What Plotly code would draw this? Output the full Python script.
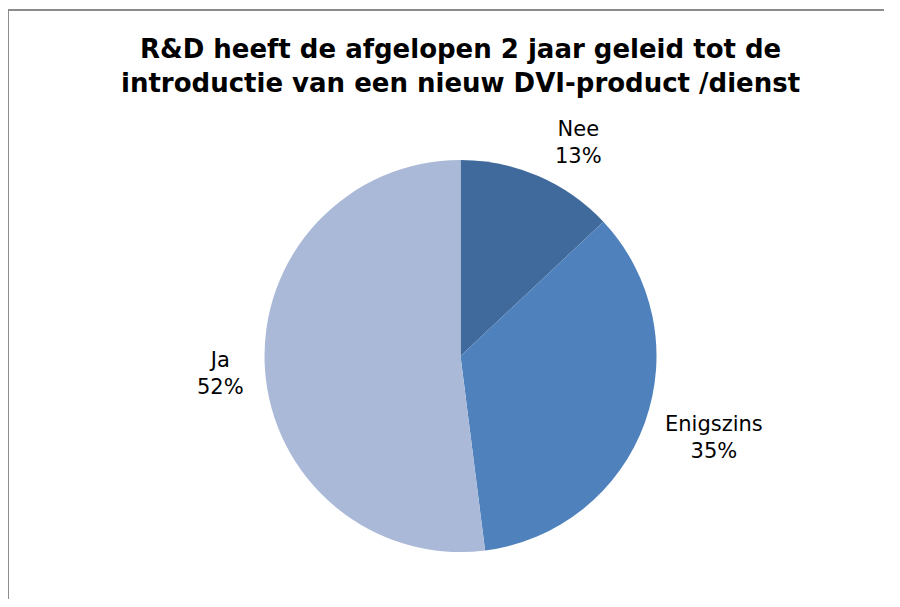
import math
import plotly.graph_objects as go

labels = ["Nee", "Enigszins", "Ja"]
values = [13, 35, 52]
colors = ["#406A9C", "#4F81BD", "#AAB9D7"]
title_text = "R&D heeft de afgelopen 2 jaar geleid tot de<br>introductie van een nieuw DVI-product /dienst"

# page offset (body margin) compensation
OFF = 8
W, H = 876, 607 - 2 * OFF
cx, cy, R = 460.5 - OFF, 356.0 - OFF, 196.0
label_dist = [1.247, 1.36, 1.23]
label_angle_shift = [5.5, -2.0, -0.5]

fig = go.Figure()
fig.add_trace(go.Pie(
    labels=labels, values=values,
    marker=dict(colors=colors, line=dict(width=0)),
    sort=False, direction="clockwise", rotation=0,
    textinfo="none", hoverinfo="label+percent",
    showlegend=False,
    domain=dict(x=[(cx - R) / W, (cx + R) / W], y=[1 - (cy + R) / H, 1 - (cy - R) / H]),
))

total = sum(values)
cum = 0
for lab, v, f, sh in zip(labels, values, label_dist, label_angle_shift):
    mid = (cum + v / 2) / total * 360 + sh
    cum += v
    a = math.radians(mid)
    px = cx + R * f * math.sin(a)
    py = cy - R * f * math.cos(a)
    pct = round(v / total * 100)
    fig.add_annotation(
        x=px / W, y=1 - py / H, xref="paper", yref="paper",
        text=f"{lab}<br>{pct}%", showarrow=False,
        font=dict(family="DejaVu Sans", size=21, color="#000000"),
        xanchor="center", yanchor="middle", align="center",
    )

fig.add_annotation(
    x=cx / W, y=1 - (65.5 - OFF) / H, xref="paper", yref="paper",
    text=f"<b>{title_text}</b>", showarrow=False,
    font=dict(family="DejaVu Sans", size=26, color="#000000"),
    xanchor="center", yanchor="middle", align="center",
)

# chart border: left and top edges only visible
bx, by = 0.0, 2.0
fig.add_shape(type="line", xref="paper", yref="paper",
              x0=bx / W, x1=bx / W, y0=0, y1=1 - by / H,
              line=dict(color="#8C8C8C", width=2))
fig.add_shape(type="line", xref="paper", yref="paper",
              x0=bx / W, x1=1, y0=1 - by / H, y1=1 - by / H,
              line=dict(color="#8C8C8C", width=2))

fig.update_layout(
    width=W, height=H,
    margin=dict(l=0, r=0, t=0, b=0),
    paper_bgcolor="#FFFFFF", plot_bgcolor="#FFFFFF",
)
fig.write_html("out.html")
